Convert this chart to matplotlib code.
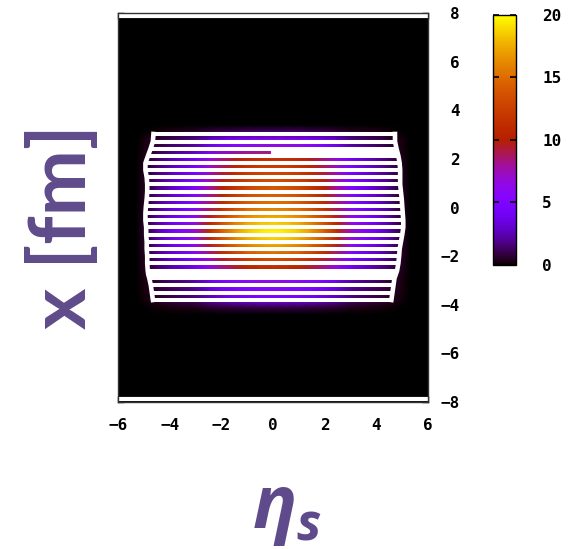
import numpy as np
import matplotlib
matplotlib.use("Agg")
import matplotlib.pyplot as plt

plt.rcParams["mathtext.fontset"] = "custom"
plt.rcParams["mathtext.it"] = "Open Sans:italic:bold"
plt.rcParams["mathtext.rm"] = "Open Sans:bold"
plt.rcParams["mathtext.fallback"] = "stixsans"

# profiles (value / max), eta direction and x direction
eta_pts = [-6.0, -5.3, -5.0, -4.5, -4.0, -3.5, -3.0, -2.5, -2.0, -1.5, -1.0, -0.5, 0.0,
           0.5, 1.0, 1.5, 2.0, 2.5, 3.0, 3.5, 4.0, 4.5, 5.0, 5.3, 6.0]
eta_vals = [0.0, 0.0, 0.03, 0.12, 0.2, 0.27, 0.36, 0.55, 0.72, 0.84, 0.93, 0.98, 1.0,
            0.98, 0.93, 0.84, 0.72, 0.55, 0.36, 0.27, 0.2, 0.12, 0.03, 0.0, 0.0]
x_pts = [-8.0, -4.4, -4.1, -3.8, -3.4, -3.0, -2.5, -2.0, -1.5, -1.0, -0.5, 0.0, 0.5,
         1.0, 1.5, 2.0, 2.4, 2.8, 3.15, 3.4, 8.0]
x_vals = [0.0, 0.0, 0.05, 0.22, 0.27, 0.32, 0.55, 0.7, 0.88, 1.0, 0.9, 0.78, 0.72,
          0.68, 0.64, 0.58, 0.35, 0.28, 0.06, 0.0, 0.0]
t_max = 20.0

# white surface lines: height and left / right ends
line_y = [3.03, 2.72, 2.42, 2.13, 1.83, 1.54, 1.24, 0.95, 0.65, 0.36, 0.06, -0.23, -0.53,
          -0.82, -1.12, -1.41, -1.71, -2.00, -2.30, -2.60, -2.76, -2.91, -3.21, -3.51, -3.81]
line_left = [-4.64, -4.66, -4.75, -4.85, -4.95, -4.95, -4.90, -4.88, -4.88, -4.90, -4.93, -4.95, -4.95,
             -4.92, -4.92, -4.90, -4.90, -4.88, -4.88, -4.86, -4.84, -4.80, -4.74, -4.70, -4.66]
line_right = [4.72, 4.72, 4.78, 4.85, 4.90, 4.92, 4.92, 4.92, 4.95, 4.98, 5.00, 5.02, 5.04,
              5.04, 5.00, 4.95, 4.90, 4.88, 4.85, 4.80, 4.75, 4.70, 4.66, 4.62, 4.58]
extra_seg = (2.27, -0.1, 4.8)

xticks = [-6, -4, -2, 0, 2, 4, 6]
yticks = [-8, -6, -4, -2, 0, 2, 4, 6, 8]
cticks = [0, 5, 10, 15, 20]

purple = "#5F4B8B"
tickfont = dict(family="DejaVu Sans Mono", weight="bold", size=11.5)

fig = plt.figure(figsize=(5.8, 5.49), dpi=100)
ax = fig.add_axes([0.204, 0.2683, 0.534, 0.7074])
ax.set_facecolor("black")

T = t_max * np.outer(x_vals, eta_vals)
mesh = ax.pcolormesh(eta_pts, x_pts, T, cmap="gnuplot", vmin=0, vmax=20,
                     shading="gouraud", rasterized=True)

lw = 2.9
for y, l, r in zip(line_y, line_left, line_right):
    ax.plot([l, r], [y, y], color="white", lw=lw, solid_capstyle="butt")
ax.plot(line_left, line_y, color="white", lw=lw + 0.4, solid_joinstyle="round")
ax.plot(line_right, line_y, color="white", lw=lw + 0.4, solid_joinstyle="round")
ax.plot([extra_seg[1], extra_seg[2]], [extra_seg[0], extra_seg[0]], color="white",
        lw=lw, solid_capstyle="butt")

# white band along top and bottom border
ax.axhline(7.9, color="white", lw=3)
ax.axhline(-7.9, color="white", lw=3)

ax.set_xlim(-6, 6)
ax.set_ylim(-8, 8)
ax.set_xticks(xticks)
ax.set_yticks(yticks)
ax.set_xticklabels([str(t).replace("-", "\u2212") for t in xticks], **tickfont)
ax.set_yticklabels([str(t).replace("-", "\u2212") for t in yticks], **tickfont)
ax.tick_params(axis="x", direction="in", top=True, bottom=True, length=4, width=1,
               color="black", pad=12)
ax.tick_params(axis="y", direction="in", left=True, right=True, labelleft=False,
               labelright=True, length=4, width=1, color="black", pad=23)
plt.setp(ax.get_yticklabels(), ha="right")
for s in ax.spines.values():
    s.set_color("#333333")
    s.set_linewidth(1)

cax = fig.add_axes([0.8495, 0.5173, 0.0397, 0.4554])
cb = fig.colorbar(mesh, cax=cax, ticks=cticks)
cb.outline.set_linewidth(1)
cax.set_yticklabels([str(t) for t in cticks], **tickfont)
cax.tick_params(direction="in", left=True, right=True, length=4, width=1.2, pad=19)

fig.text(64 / 580, 1 - 227 / 549, "x [fm]", rotation=90, ha="center", va="center",
         fontsize=57, fontweight="bold", family="Lato", color=purple)
fig.text(287 / 580, 1 - 511 / 549, r"$\eta_s$", ha="center", va="center", fontsize=53,
         color=purple)

fig.savefig("out.png", dpi=100)
